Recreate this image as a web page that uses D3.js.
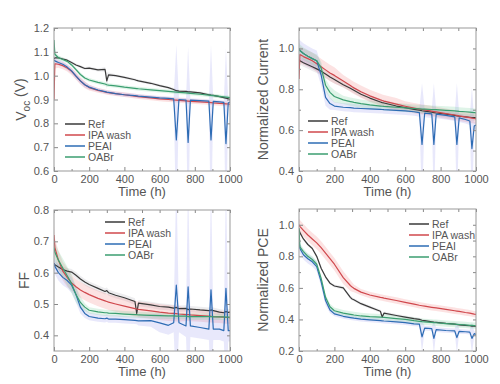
<!DOCTYPE html>
<html>
<head>
<meta charset="utf-8">
<script src="https://cdn.jsdelivr.net/npm/d3@7"></script>
<style>
  body { margin: 0; background: #fff; }
  text { font-family: "Liberation Sans", Arial, sans-serif; fill: #555; }
</style>
</head>
<body>
<div id="wrapper"></div>
<script>
// shared time grid (h)
const hours = [0,5,25,50,75, 100,125,150,175,200, 250,290,300,310,350, 400,460,470,480,550,
  600,650,680,695,710, 750,762,775,830,880, 892,905,940,965,977, 990,1000]

const seriesNames = ["Ref", "IPA wash", "PEAI", "OABr"]
const xTicks = [0, 200, 400, 600, 800, 1000]
const xMinorTicks = [100, 300, 500, 700, 900]

// Voc (V)
const vocRef = [1.070,1.075,1.075,1.070,1.065, 1.055,1.045,1.038,1.030,1.032, 1.024,1.026,0.978,1.003,1.000,
  0.993,0.983,0.980,0.978,0.968, 0.958,0.950,0.942,0.937,0.935, 0.934,0.932,0.932,0.928,0.920,
  0.918,0.917,0.912,0.908,0.906, 0.903,0.900]
const vocIpa = [0.900,1.050,1.048,1.042,1.032, 1.018,0.998,0.978,0.962,0.950, 0.938,0.932,0.930,0.929,0.925,
  0.920,0.914,0.913,0.912,0.907, 0.903,0.900,0.898,0.897,0.896, 0.894,0.893,0.892,0.890,0.888,
  0.887,0.886,0.884,0.883,0.882, 0.881,0.880]
const vocPeai = [1.065,1.062,1.055,1.048,1.036, 1.020,0.998,0.978,0.962,0.952, 0.940,0.933,0.931,0.930,0.925,
  0.920,0.916,0.915,0.914,0.910, 0.907,0.905,0.903,0.730,0.900, 0.898,0.720,0.897,0.895,0.893,
  0.730,0.892,0.890,0.888,0.715, 0.885,0.890]
const vocOabr = [1.150,1.090,1.075,1.068,1.060, 1.045,1.025,1.005,0.990,0.982, 0.972,0.965,0.962,0.960,0.957,
  0.952,0.947,0.946,0.945,0.940, 0.937,0.934,0.932,0.931,0.930, 0.928,0.927,0.926,0.922,0.918,
  0.917,0.916,0.913,0.911,0.910, 0.909,0.908]
const vocRefSd = [0.006,0.006,0.006,0.006,0.006, 0.006,0.006,0.006,0.006,0.006, 0.006,0.010,0.035,0.010,0.006,
  0.006,0.006,0.006,0.006,0.006, 0.006,0.006,0.006,0.006,0.006, 0.006,0.006,0.006,0.006,0.006,
  0.006,0.006,0.006,0.006,0.006, 0.006,0.006]
const vocIpaSd = [0.020,0.020,0.015,0.015,0.015, 0.015,0.015,0.015,0.015,0.012, 0.010,0.010,0.010,0.010,0.010,
  0.010,0.010,0.010,0.010,0.010, 0.010,0.010,0.010,0.010,0.010, 0.010,0.010,0.010,0.010,0.010,
  0.010,0.010,0.010,0.010,0.010, 0.010,0.010]
const vocPeaiSd = [0.012,0.012,0.012,0.012,0.012, 0.012,0.012,0.012,0.012,0.010, 0.008,0.008,0.008,0.008,0.008,
  0.008,0.008,0.008,0.008,0.008, 0.008,0.008,0.008,0.400,0.008, 0.008,0.400,0.008,0.008,0.008,
  0.400,0.008,0.008,0.008,0.400, 0.008,0.008]
const vocOabrSd = [0.010,0.010,0.010,0.008,0.008, 0.008,0.008,0.008,0.008,0.008, 0.008,0.008,0.008,0.008,0.008,
  0.008,0.008,0.008,0.008,0.008, 0.008,0.008,0.008,0.008,0.008, 0.008,0.008,0.008,0.008,0.008,
  0.008,0.008,0.008,0.008,0.008, 0.008,0.008]

// Normalized current
const curRef = [0.945,0.940,0.930,0.920,0.910, 0.900,0.888,0.875,0.860,0.848, 0.822,0.805,0.800,0.795,0.776,
  0.757,0.738,0.735,0.733,0.718, 0.710,0.702,0.698,0.695,0.693, 0.688,0.686,0.684,0.678,0.672,
  0.670,0.668,0.665,0.663,0.662, 0.661,0.660]
const curIpa = [0.850,0.970,0.960,0.950,0.940, 0.925,0.910,0.895,0.880,0.868, 0.840,0.818,0.812,0.807,0.788,
  0.768,0.748,0.745,0.742,0.727, 0.717,0.708,0.703,0.701,0.699, 0.693,0.691,0.689,0.681,0.674,
  0.672,0.670,0.665,0.661,0.659, 0.657,0.655]
const curPeai = [1.000,0.990,0.975,0.962,0.950, 0.940,0.870,0.760,0.730,0.718, 0.712,0.710,0.709,0.708,0.706,
  0.704,0.702,0.701,0.700,0.697, 0.694,0.690,0.686,0.530,0.683, 0.680,0.530,0.678,0.672,0.665,
  0.530,0.660,0.652,0.645,0.510, 0.620,0.625]
const curOabr = [1.000,0.990,0.975,0.962,0.950, 0.940,0.905,0.820,0.785,0.765, 0.748,0.740,0.738,0.736,0.730,
  0.724,0.718,0.717,0.716,0.712, 0.709,0.706,0.704,0.703,0.703, 0.701,0.700,0.700,0.697,0.694,
  0.693,0.692,0.690,0.688,0.687, 0.686,0.685]
const curRefSd = [0.020,0.020,0.020,0.020,0.020, 0.020,0.020,0.020,0.020,0.020, 0.015,0.015,0.015,0.015,0.015,
  0.015,0.015,0.015,0.015,0.015, 0.015,0.015,0.015,0.015,0.015, 0.015,0.015,0.015,0.015,0.015,
  0.015,0.015,0.015,0.015,0.015, 0.015,0.015]
const curIpaSd = [0.040,0.040,0.040,0.040,0.040, 0.040,0.040,0.040,0.040,0.040, 0.030,0.030,0.030,0.030,0.030,
  0.030,0.030,0.030,0.030,0.030, 0.025,0.025,0.025,0.025,0.025, 0.025,0.025,0.025,0.025,0.025,
  0.025,0.025,0.025,0.025,0.025, 0.025,0.025]
const curPeaiSd = [0.050,0.050,0.050,0.050,0.050, 0.050,0.050,0.040,0.030,0.020, 0.020,0.020,0.020,0.020,0.020,
  0.020,0.020,0.020,0.020,0.020, 0.020,0.020,0.020,0.300,0.020, 0.020,0.300,0.020,0.020,0.020,
  0.300,0.020,0.020,0.020,0.300, 0.020,0.020]
const curOabrSd = [0.030,0.030,0.030,0.030,0.030, 0.030,0.030,0.030,0.030,0.030, 0.020,0.020,0.020,0.020,0.020,
  0.020,0.020,0.020,0.020,0.020, 0.020,0.020,0.020,0.020,0.020, 0.020,0.020,0.020,0.020,0.020,
  0.020,0.020,0.020,0.020,0.020, 0.020,0.020]

// FF
const ffRef = [0.630,0.625,0.618,0.610,0.605, 0.602,0.592,0.580,0.570,0.562, 0.550,0.540,0.543,0.536,0.528,
  0.520,0.508,0.470,0.503,0.497, 0.492,0.490,0.487,0.489,0.485, 0.486,0.482,0.484,0.481,0.479,
  0.481,0.479,0.474,0.472,0.476, 0.473,0.474]
const ffIpa = [0.720,0.680,0.640,0.605,0.585, 0.567,0.555,0.545,0.537,0.530, 0.518,0.510,0.508,0.506,0.500,
  0.493,0.485,0.484,0.483,0.478, 0.474,0.471,0.470,0.469,0.468, 0.466,0.466,0.465,0.463,0.461,
  0.461,0.460,0.459,0.458,0.457, 0.457,0.456]
const ffPeai = [0.630,0.620,0.600,0.585,0.575, 0.560,0.530,0.490,0.470,0.460, 0.455,0.453,0.455,0.452,0.452,
  0.450,0.448,0.447,0.446,0.447, 0.440,0.432,0.440,0.560,0.440, 0.430,0.555,0.430,0.425,0.420,
  0.545,0.420,0.420,0.415,0.550, 0.415,0.415]
const ffOabr = [0.680,0.665,0.640,0.615,0.590, 0.565,0.530,0.505,0.490,0.480, 0.475,0.472,0.472,0.471,0.470,
  0.468,0.466,0.466,0.465,0.464, 0.463,0.462,0.462,0.461,0.461, 0.461,0.460,0.460,0.460,0.460,
  0.460,0.459,0.459,0.459,0.458, 0.458,0.458]
const ffRefSd = [0.010,0.010,0.010,0.010,0.010, 0.010,0.010,0.010,0.010,0.010, 0.010,0.010,0.010,0.010,0.010,
  0.010,0.010,0.010,0.010,0.010, 0.010,0.010,0.010,0.010,0.010, 0.010,0.010,0.010,0.010,0.010,
  0.010,0.010,0.010,0.010,0.010, 0.010,0.010]
const ffIpaSd = [0.030,0.030,0.030,0.030,0.030, 0.025,0.025,0.025,0.025,0.025, 0.025,0.025,0.025,0.025,0.025,
  0.025,0.025,0.025,0.025,0.025, 0.025,0.025,0.025,0.025,0.025, 0.020,0.020,0.020,0.020,0.020,
  0.020,0.020,0.020,0.020,0.020, 0.020,0.020]
const ffPeaiSd = [0.025,0.025,0.025,0.025,0.025, 0.025,0.025,0.020,0.015,0.012, 0.012,0.012,0.012,0.012,0.012,
  0.012,0.012,0.012,0.015,0.020, 0.030,0.030,0.030,0.350,0.030, 0.035,0.350,0.035,0.035,0.035,
  0.350,0.035,0.035,0.035,0.350, 0.035,0.035]
const ffOabrSd = [0.030,0.030,0.030,0.030,0.030, 0.030,0.025,0.020,0.012,0.010, 0.010,0.010,0.010,0.010,0.010,
  0.010,0.010,0.010,0.010,0.010, 0.010,0.010,0.010,0.010,0.010, 0.010,0.010,0.010,0.010,0.010,
  0.010,0.010,0.010,0.010,0.010, 0.010,0.010]

// Normalized PCE
const pceRef = [0.970,0.950,0.910,0.875,0.850, 0.800,0.725,0.670,0.630,0.612, 0.600,0.540,0.530,0.525,0.500,
  0.478,0.452,0.415,0.440,0.425, 0.415,0.405,0.400,0.395,0.392, 0.385,0.383,0.382,0.375,0.370,
  0.368,0.366,0.362,0.360,0.358, 0.357,0.356]
const pceIpa = [1.000,0.990,0.965,0.935,0.910, 0.885,0.855,0.820,0.785,0.750, 0.665,0.615,0.605,0.597,0.573,
  0.555,0.540,0.538,0.535,0.520, 0.508,0.497,0.490,0.487,0.484, 0.477,0.475,0.473,0.464,0.455,
  0.453,0.451,0.444,0.440,0.437, 0.434,0.432]
const pcePeai = [0.900,0.850,0.810,0.785,0.765, 0.735,0.640,0.520,0.460,0.435, 0.420,0.412,0.410,0.408,0.402,
  0.397,0.392,0.391,0.390,0.385, 0.380,0.372,0.370,0.290,0.345, 0.342,0.280,0.335,0.330,0.327,
  0.285,0.325,0.322,0.320,0.280, 0.310,0.305]
const pceOabr = [0.980,0.860,0.830,0.800,0.780, 0.750,0.660,0.540,0.480,0.455, 0.440,0.432,0.430,0.428,0.422,
  0.418,0.415,0.414,0.413,0.405, 0.400,0.392,0.388,0.386,0.385, 0.381,0.380,0.379,0.374,0.370,
  0.369,0.368,0.365,0.363,0.362, 0.361,0.360]
const pceRefSd = [0.010,0.010,0.010,0.010,0.010, 0.010,0.010,0.010,0.010,0.010, 0.010,0.010,0.010,0.010,0.010,
  0.010,0.010,0.010,0.010,0.010, 0.010,0.010,0.010,0.010,0.010, 0.010,0.010,0.010,0.010,0.010,
  0.010,0.010,0.010,0.010,0.010, 0.010,0.010]
const pceIpaSd = [0.040,0.040,0.040,0.040,0.040, 0.040,0.040,0.040,0.040,0.040, 0.040,0.035,0.030,0.025,0.020,
  0.020,0.020,0.020,0.020,0.020, 0.020,0.020,0.020,0.020,0.020, 0.020,0.020,0.020,0.020,0.020,
  0.020,0.020,0.020,0.020,0.020, 0.020,0.020]
const pcePeaiSd = [0.030,0.030,0.030,0.030,0.030, 0.030,0.030,0.030,0.020,0.015, 0.015,0.015,0.015,0.015,0.015,
  0.015,0.015,0.015,0.015,0.015, 0.015,0.015,0.015,0.100,0.015, 0.015,0.100,0.015,0.015,0.015,
  0.100,0.015,0.015,0.015,0.100, 0.015,0.015]
const pceOabrSd = [0.020,0.020,0.020,0.020,0.020, 0.020,0.020,0.020,0.020,0.020, 0.020,0.020,0.020,0.020,0.020,
  0.020,0.020,0.020,0.020,0.020, 0.020,0.020,0.020,0.020,0.020, 0.020,0.020,0.020,0.020,0.020,
  0.020,0.020,0.020,0.020,0.020, 0.020,0.020]

const lineColors = ["#3a3a3a", "#d0484d", "#2d6cb4", "#3b9e70"]
const bandColors = ["rgba(110,110,120,0.12)", "rgba(240,110,110,0.2)", "rgba(140,140,235,0.2)", "rgba(110,205,150,0.22)"]

const panels = [
  { id: "voc", values: [vocRef, vocIpa, vocPeai, vocOabr], sds: [vocRefSd, vocIpaSd, vocPeaiSd, vocOabrSd],
    left: 54, right: 230, top: 28, bottom: 171, yDomain: [0.6, 1.2],
    yTicks: [0.6, 0.7, 0.8, 0.9, 1.0, 1.1, 1.2], yMinor: [],
    titleX: 26, legendX: 65, legendY: 124 },
  { id: "cur", values: [curRef, curIpa, curPeai, curOabr], sds: [curRefSd, curIpaSd, curPeaiSd, curOabrSd],
    left: 299, right: 476, top: 28, bottom: 171, yDomain: [0.4, 1.1],
    yTicks: [0.4, 0.6, 0.8, 1.0], yMinor: [0.5, 0.7, 0.9],
    title: "Normalized Current", titleX: 268, legendX: 308, legendY: 121 },
  { id: "ff", values: [ffRef, ffIpa, ffPeai, ffOabr], sds: [ffRefSd, ffIpaSd, ffPeaiSd, ffOabrSd],
    left: 54, right: 230, top: 210, bottom: 351, yDomain: [0.35, 0.8],
    yTicks: [0.4, 0.5, 0.6, 0.7, 0.8], yMinor: [],
    title: "FF", titleX: 29, legendX: 105, legendY: 222 },
  { id: "pce", values: [pceRef, pceIpa, pcePeai, pceOabr], sds: [pceRefSd, pceIpaSd, pcePeaiSd, pceOabrSd],
    left: 299, right: 476, top: 209, bottom: 351, yDomain: [0.2, 1.1],
    yTicks: [0.2, 0.4, 0.6, 0.8, 1.0], yMinor: [0.3, 0.5, 0.7, 0.9],
    title: "Normalized PCE", titleX: 268, legendX: 409, legendY: 224 },
]

const svg = d3.select("#wrapper")
  .append("svg")
    .attr("width", 500)
    .attr("height", 384)

panels.forEach(p => {
  const xScale = d3.scaleLinear().domain([0, 1000]).range([p.left, p.right])
  const yScale = d3.scaleLinear().domain(p.yDomain).range([p.bottom, p.top])

  const g = svg.append("g")

  g.append("clipPath").attr("id", "clip-" + p.id)
    .append("rect")
      .attr("x", p.left).attr("y", p.top)
      .attr("width", p.right - p.left).attr("height", p.bottom - p.top)

  const plot = g.append("g").attr("clip-path", `url(#clip-${p.id})`)

  const area = d3.area()
    .x((d, i) => xScale(hours[i]))
    .y0(d => yScale(d[0] - d[1]))
    .y1(d => yScale(d[0] + d[1]))

  const line = d3.line()
    .x((d, i) => xScale(hours[i]))
    .y(d => yScale(d))

  // bands first, then lines
  p.values.forEach((vals, s) => {
    plot.append("path")
      .attr("d", area(vals.map((v, i) => [v, p.sds[s][i]])))
      .attr("fill", bandColors[s])
  })
  p.values.forEach((vals, s) => {
    plot.append("path")
      .attr("d", line(vals))
      .attr("fill", "none")
      .attr("stroke", lineColors[s])
      .attr("stroke-width", 1.2)
      .attr("stroke-linejoin", "round")
  })

  // axes, ticks pointing inwards on all sides
  g.append("g")
    .attr("transform", `translate(0,${p.bottom})`)
    .call(d3.axisBottom(xScale).tickValues(xTicks).tickSizeInner(-4).tickSizeOuter(0).tickPadding(4).tickFormat(d3.format("d")))
  g.append("g").attr("transform", `translate(0,${p.bottom})`)
    .call(d3.axisBottom(xScale).tickValues(xMinorTicks).tickSizeInner(-2).tickSizeOuter(0).tickFormat(""))
  g.append("g").attr("transform", `translate(0,${p.top})`)
    .call(d3.axisTop(xScale).tickValues(xTicks.concat(xMinorTicks)).tickSizeInner(-3).tickSizeOuter(0).tickFormat(""))

  g.append("g").attr("transform", `translate(${p.left},0)`)
    .call(d3.axisLeft(yScale).tickValues(p.yTicks).tickSizeInner(-4).tickSizeOuter(0).tickPadding(5).tickFormat(d3.format(".1f")))
  g.append("g").attr("transform", `translate(${p.left},0)`)
    .call(d3.axisLeft(yScale).tickValues(p.yMinor).tickSizeInner(-2).tickSizeOuter(0).tickFormat(""))
  g.append("g").attr("transform", `translate(${p.right},0)`)
    .call(d3.axisRight(yScale).tickValues(p.yTicks.concat(p.yMinor)).tickSizeInner(-3).tickSizeOuter(0).tickFormat(""))

  g.selectAll(".domain").remove()
  g.selectAll(".tick line").attr("stroke", "#888")
  g.selectAll(".tick text").attr("font-size", 11).style("fill", "#555")

  g.append("rect")
    .attr("x", p.left).attr("y", p.top)
    .attr("width", p.right - p.left).attr("height", p.bottom - p.top)
    .attr("fill", "none").attr("stroke", "#999").attr("stroke-width", 1)

  g.append("text")
    .attr("x", (p.left + p.right) / 2)
    .attr("y", p.bottom + 25)
    .attr("text-anchor", "middle")
    .attr("font-size", 13)
    .text("Time (h)")

  const cy = (p.top + p.bottom) / 2
  const title = g.append("text")
    .attr("transform", `translate(${p.titleX},${cy}) rotate(-90)`)
    .attr("text-anchor", "middle")
    .attr("font-size", 14)
  if (p.id === "voc") {
    title.append("tspan").text("V")
    title.append("tspan").attr("font-size", 10).attr("dy", "0.35em").text("oc")
    title.append("tspan").attr("dy", "-0.35em").text(" (V)")
  } else {
    title.text(p.title)
  }

  // legend
  const legend = g.append("g")
  seriesNames.forEach((name, s) => {
    const ly = p.legendY + s * 11
    legend.append("line")
      .attr("x1", p.legendX).attr("x2", p.legendX + 20)
      .attr("y1", ly).attr("y2", ly)
      .attr("stroke", lineColors[s]).attr("stroke-width", 1.5)
    legend.append("text")
      .attr("x", p.legendX + 23).attr("y", ly + 3.5)
      .attr("font-size", 10.5)
      .text(name)
  })
})
</script>
</body>
</html>
